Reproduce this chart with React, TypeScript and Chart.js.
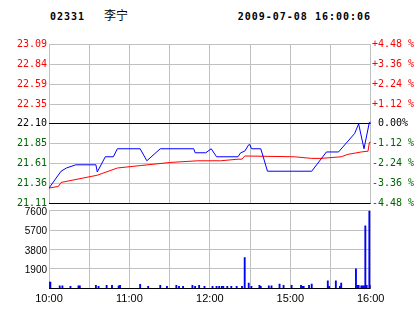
import { useEffect, useRef } from 'react';
import { Chart, registerables } from 'chart.js';

Chart.register(...registerables);

// ---- header ----
const stockCode = '02331';
const stockName = '李宁';
const timestamp = '2009-07-08 16:00:06';

// ---- axes ----
const prevClose = 22.1;
const pctTicks = [4.48, 3.36, 2.24, 1.12, 0, -1.12, -2.24, -3.36, -4.48];
const priceTickLabels = ['23.09', '22.84', '22.59', '22.35', '22.10', '21.85', '21.61', '21.36', '21.11'];
const pctTickLabels = ['+4.48 %', '+3.36 %', '+2.24 %', '+1.12 %', ' 0.00%', '-1.12 %', '-2.24 %', '-3.36 %', '-4.48 %'];
const timeTickMinutes = [0, 60, 120, 180, 240];
const timeTickLabels = ['10:00', '11:00', '12:00', '15:00', '16:00'];
const volumeTicks = [0, 1900, 3800, 5700, 7600];

// ---- series (minute index since 10:00) ----
const priceMinutes = [0, 9, 13, 20, 35, 36, 42, 48, 51, 68, 73, 83, 108, 109, 117, 121, 125, 141, 143, 146, 149, 150, 151, 158, 163, 196, 207, 216, 228, 231, 235, 239, 240];
const priceValues = [21.30, 21.51, 21.55, 21.59, 21.59, 21.50, 21.69, 21.69, 21.79, 21.79, 21.64, 21.79, 21.79, 21.74, 21.74, 21.79, 21.69, 21.69, 21.74, 21.76, 21.84, 21.84, 21.79, 21.79, 21.51, 21.51, 21.75, 21.75, 21.98, 22.10, 21.79, 22.12, 22.12];

const avgMinutes = [0, 7, 9, 36, 51, 68, 91, 111, 128, 141, 144, 146, 183, 196, 203, 218, 223, 233, 238, 239, 240];
const avgValues = [21.30, 21.32, 21.37, 21.46, 21.55, 21.58, 21.62, 21.64, 21.64, 21.66, 21.66, 21.70, 21.69, 21.67, 21.67, 21.69, 21.72, 21.75, 21.76, 21.87, 21.87];

const volumeMinutes = [0, 1, 8, 10, 16, 22, 23, 35, 37, 43, 47, 52, 53, 68, 74, 83, 88, 95, 97, 100, 107, 109, 112, 116, 122, 125, 127, 129, 130, 133, 136, 140, 144, 146, 149, 151, 157, 158, 164, 166, 172, 175, 181, 188, 189, 190, 194, 196, 208, 209, 214, 217, 218, 229, 230, 231, 233, 234, 235, 236, 237, 239, 240];
const volumeValues = [620, 620, 230, 230, 200, 230, 230, 300, 200, 300, 300, 250, 300, 400, 200, 300, 200, 300, 200, 200, 300, 200, 300, 200, 200, 200, 200, 200, 200, 200, 200, 200, 200, 3020, 520, 200, 300, 200, 230, 230, 420, 300, 300, 300, 200, 200, 300, 420, 720, 200, 720, 200, 500, 1900, 300, 300, 230, 230, 230, 6130, 300, 7600, 300];

const GRID = '#c0c0c0';
const RED = '#ff0000';
const GREEN = '#006400';
const BLACK = '#000000';
const BLUE = '#0000ff';

const nearestIdx = (arr: number[], v: number) => {
  let best = 0;
  for (let i = 1; i < arr.length; i++) if (Math.abs(arr[i] - v) < Math.abs(arr[best] - v)) best = i;
  return best;
};
const pctOf = (v: number) => (v / prevClose - 1) * 100;
const signColor = (p: number) => (p > 0.001 ? RED : p < -0.001 ? GREEN : BLACK);
const gridMinutes = Array.from({ length: 9 }, (_, i) => i * 30);

export default function App() {
  const priceRef = useRef<HTMLCanvasElement>(null);
  const volRef = useRef<HTMLCanvasElement>(null);

  useEffect(() => {
    const mono = { family: "'DejaVu Sans Mono', monospace", size: 10 };
    const minP = prevClose * (1 - 4.48 / 100);
    const maxP = prevClose * (1 + 4.48 / 100);
    const xBase: any = {
      type: 'linear',
      min: 0,
      max: 240,
      offset: false,
      afterBuildTicks: (s: any) => {
        s.ticks = gridMinutes.map((v) => ({ value: v }));
      },
      grid: { color: GRID, drawTicks: false, lineWidth: 1, offset: false },
      border: { display: false },
    };

    const priceChart = new Chart(priceRef.current!, {
      type: 'line',
      data: {
        datasets: [
          {
            label: 'price',
            data: priceMinutes.map((m, i) => ({ x: m, y: priceValues[i] })),
            borderColor: BLUE,
            borderWidth: 1,
            pointRadius: 0,
            tension: 0,
            fill: false,
            yAxisID: 'y',
          },
          {
            label: 'avg',
            data: avgMinutes.map((m, i) => ({ x: m, y: avgValues[i] })),
            borderColor: RED,
            borderWidth: 1,
            pointRadius: 0,
            tension: 0,
            fill: false,
            yAxisID: 'y',
          },
        ],
      },
      options: {
        animation: false,
        responsive: false,
        maintainAspectRatio: false,
        events: [],
        layout: { padding: { top: 44.5, bottom: 8.7, left: 0, right: 0 } },
        plugins: { legend: { display: false }, tooltip: { enabled: false } },
        scales: {
          x: { ...xBase, ticks: { display: false } },
          y: {
            type: 'linear',
            position: 'left',
            min: minP,
            max: maxP,
            afterBuildTicks: (s: any) => {
              s.ticks = pctTicks
                .slice()
                .reverse()
                .map((p) => ({ value: prevClose * (1 + p / 100) }));
            },
            afterFit: (s: any) => {
              s.width = 49;
            },
            ticks: {
              autoSkip: false,
              padding: 2,
              font: mono,
              color: (ctx: any) => signColor(pctOf(ctx.tick.value)),
              callback: (v: any) => priceTickLabels[nearestIdx(pctTicks, pctOf(Number(v)))],
            },
            grid: {
              drawTicks: false,
              lineWidth: 1,
              color: (ctx: any) => {
                const p = pctOf(ctx.tick.value);
                return Math.abs(p) < 0.001 || p < -4.4 ? BLACK : GRID;
              },
            },
            border: { display: false },
          },
          y2: {
            type: 'linear',
            position: 'right',
            min: -4.48,
            max: 4.48,
            afterBuildTicks: (s: any) => {
              s.ticks = pctTicks
                .slice()
                .reverse()
                .map((p) => ({ value: p }));
            },
            afterFit: (s: any) => {
              s.width = 43.3;
            },
            ticks: {
              autoSkip: false,
              padding: 1.3,
              font: mono,
              color: (ctx: any) => signColor(ctx.tick.value),
              callback: (v: any) => pctTickLabels[nearestIdx(pctTicks, Number(v))],
            },
            grid: { display: false, drawTicks: false },
            border: { display: false },
          },
        },
      } as any,
    });

    const volChart = new Chart(volRef.current!, {
      type: 'bar',
      data: {
        datasets: [
          {
            label: 'volume',
            data: volumeMinutes.map((m, i) => ({ x: m, y: volumeValues[i] })) as any,
            backgroundColor: BLUE,
            borderWidth: 0,
            barThickness: 1.2,
          },
        ],
      },
      options: {
        animation: false,
        responsive: false,
        maintainAspectRatio: false,
        events: [],
        layout: { padding: { top: 10.7, bottom: 5.7, left: 0, right: 43.3 } },
        plugins: { legend: { display: false }, tooltip: { enabled: false } },
        scales: {
          x: {
            ...xBase,
            afterFit: (s: any) => {
              s.height = 20;
            },
            ticks: {
              autoSkip: false,
              maxRotation: 0,
              padding: 4,
              font: { family: "'Liberation Sans', Arial, sans-serif", size: 11 },
              color: BLACK,
              callback: (v: any) => {
                const i = timeTickMinutes.indexOf(Number(v));
                return i >= 0 ? timeTickLabels[i] : '';
              },
            },
          },
          y: {
            type: 'linear',
            min: 0,
            max: 7600,
            afterBuildTicks: (s: any) => {
              s.ticks = volumeTicks.map((v) => ({ value: v }));
            },
            afterFit: (s: any) => {
              s.width = 49;
            },
            ticks: {
              autoSkip: false,
              padding: 2,
              labelOffset: 1.5,
              font: { family: "'Liberation Sans', Arial, sans-serif", size: 10 },
              color: BLACK,
              callback: (v: any) => (Number(v) === 0 ? '' : String(v)),
            },
            grid: {
              drawTicks: false,
              lineWidth: 1,
              color: (ctx: any) => (ctx.tick.value === 0 ? BLACK : GRID),
            },
            border: { display: false },
          },
        },
      } as any,
    });

    return () => {
      priceChart.destroy();
      volChart.destroy();
    };
  }, []);

  const headMono: any = {
    position: 'absolute',
    fontFamily: "'DejaVu Sans Mono', monospace",
    fontWeight: 'bold',
    fontSize: '10px',
    letterSpacing: '1px',
    lineHeight: '10px',
    whiteSpace: 'pre',
    color: BLACK,
  };

  return (
    <div style={{ position: 'absolute', left: 0, top: 0, width: 414, height: 314, background: '#fff', overflow: 'hidden' }}>
      <div style={{ ...headMono, left: 50, top: 12 }}>{stockCode}</div>
      <div
        style={{
          position: 'absolute',
          left: 104,
          top: 9,
          fontFamily: "'Noto Sans CJK SC', sans-serif",
          fontSize: '12px',
          lineHeight: '12px',
          color: BLACK,
          whiteSpace: 'pre',
        }}
      >
        {stockName}
      </div>
      <div style={{ ...headMono, left: 237.7, top: 12 }}>{timestamp}</div>
      <canvas ref={priceRef} width={414} height={212} style={{ position: 'absolute', left: 0, top: 0 }} />
      <canvas ref={volRef} width={414} height={114} style={{ position: 'absolute', left: 0, top: 200 }} />
    </div>
  );
}
